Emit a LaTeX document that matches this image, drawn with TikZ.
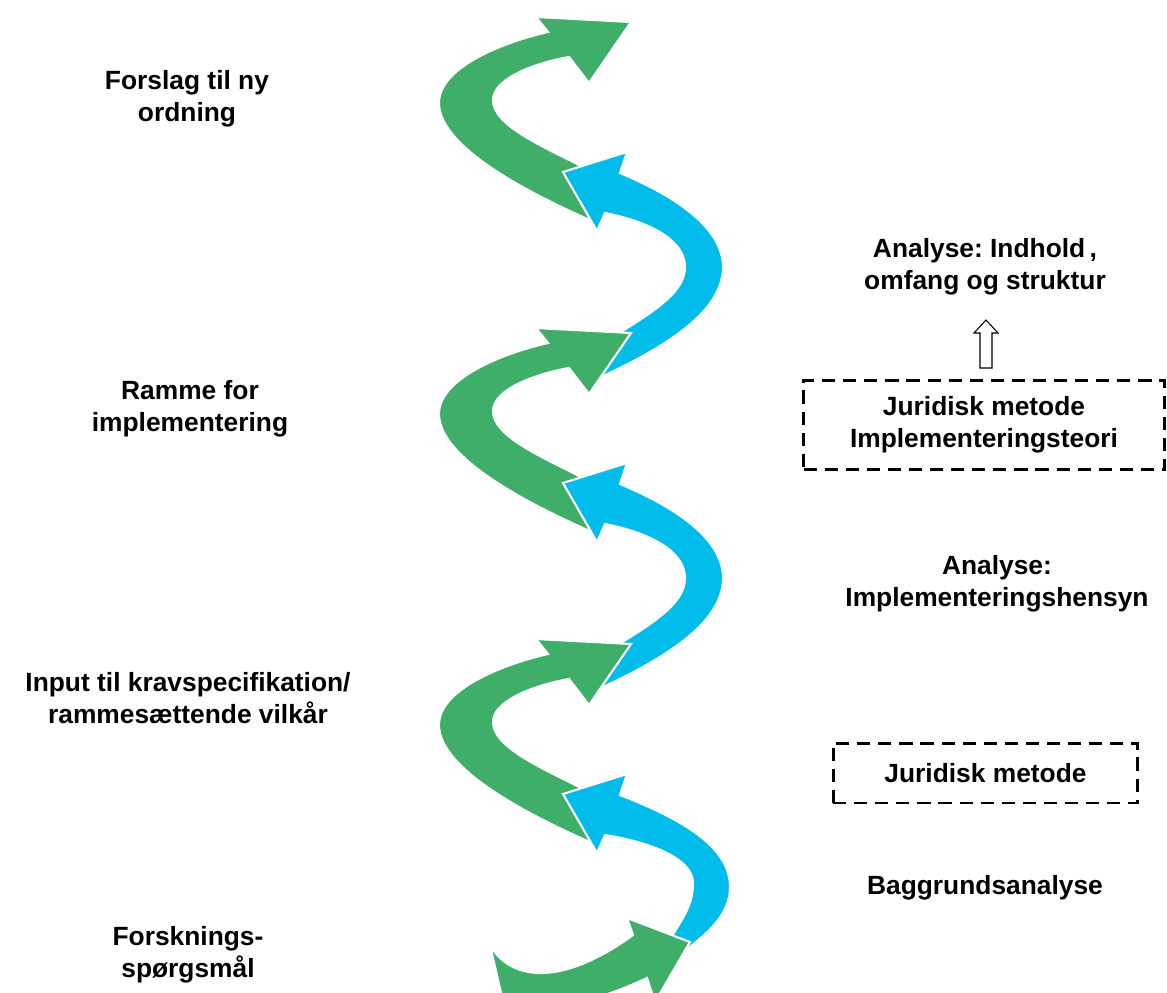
\documentclass[tikz,border=0pt]{standalone}
\usepackage{fontspec}
\setmainfont{Liberation Sans}
\frenchspacing
\definecolor{pilgroen}{RGB}{63,174,104}
\definecolor{pilblaa}{RGB}{0,188,235}
\tikzset{
	tekst/.style={align=center, font=\bfseries\fontsize{15}{18}\selectfont},
	metodeboks/.style={tekst, draw, line width=1.7pt, dash pattern=on 7.5pt off 4.5pt, inner sep=0pt},
	groenpil/.style={fill=pilgroen, draw=white, line width=1.2pt},
	blaapil/.style={fill=pilblaa, draw=white, line width=1.2pt}
}
\begin{document}
\begin{tikzpicture}[x=0.02cm, y=-0.02cm]
	\def\p{311} %Periode
	\useasboundingbox (0,0) rectangle (1167,993);
	\clip (0,0) rectangle (1167,993);
	
	%Gruen pil, #1 = y-offset
	\def\groen#1{
		\draw[groenpil] (583,167+#1) .. controls (540,145+#1) and (493,125+#1) .. (493,100+#1)
		.. controls (493,80+#1) and (530,64+#1) .. (569,57+#1)
		-- (589,83+#1) -- (631,22+#1) -- (536,17+#1) -- (548,32+#1)
		.. controls (500,43+#1) and (440,68+#1) .. (439,102+#1)
		.. controls (438,142+#1) and (510,185+#1) .. (592,221+#1) -- cycle;
	}
	%Blaa pil, #1 = y-offset
	\def\blaa#1{
		\draw[blaapil] (601,377+#1) .. controls (670,345+#1) and (723,310+#1) .. (723,267+#1)
		.. controls (723,230+#1) and (680,198+#1) .. (620,173+#1)
		-- (627,152+#1) -- (563,172+#1) -- (597,231+#1) -- (605,213+#1)
		.. controls (650,222+#1) and (685,240+#1) .. (685,267+#1)
		.. controls (685,290+#1) and (660,308+#1) .. (619,333+#1) -- cycle;
	}
	
	%Spiral
	\groen{0}
	\blaa{0}
	\groen{\p}
	\blaa{\p}
	\groen{2*\p}
	\draw[blaapil] (686,950) .. controls (712,930) and (730,912) .. (730,887)
	.. controls (730,850) and (690,822) .. (620,795)
	-- (627,774) -- (563,794) -- (597,853) -- (605,835)
	.. controls (655,843) and (693,860) .. (693,883)
	.. controls (693,903) and (685,915) .. (672,936) -- cycle;
	\draw[groenpil] (490,945) .. controls (510,980) and (560,988) .. (633,935)
	-- (627,918) -- (690,942) -- (655,1002) -- (647,978)
	.. controls (600,1000) and (560,1010) .. (505,1010) -- cycle;
	
	%Venstre side
	\node[tekst] (forslag) at (187,99) {Forslag til ny\\ordning};
	\node[tekst] (ramme) at (190,409) {Ramme for\\implementering};
	\node[tekst] (input) at (188,698) {Input til kravspecifikation/\\rammesættende vilkår};
	\node[tekst] (forskning) at (188,955) {Forsknings-\\spørgsmål};
	
	%Hoejre side
	\node[tekst] (analyse1) at (985,267) {Analyse: Indhold\,,\\omfang og struktur};
	\draw[line width=0.6pt, fill=white] (980,368) -- (980,333) -- (974,333) -- (986,320)
	-- (998,333) -- (992,333) -- (992,368) -- cycle;
	\node[metodeboks, minimum width=7.22cm, minimum height=1.8cm] (metode1) at (984,425)
	{Juridisk metode\\Implementeringsteori};
	\node[tekst] (analyse2) at (997,584) {Analyse:\\Implementeringshensyn};
	\node[metodeboks, minimum width=6.1cm, minimum height=1.2cm] (metode2) at (985.5,773)
	{Juridisk metode};
	\node[tekst] (baggrund) at (985,888) {Baggrundsanalyse};
	
\end{tikzpicture}
\end{document}
